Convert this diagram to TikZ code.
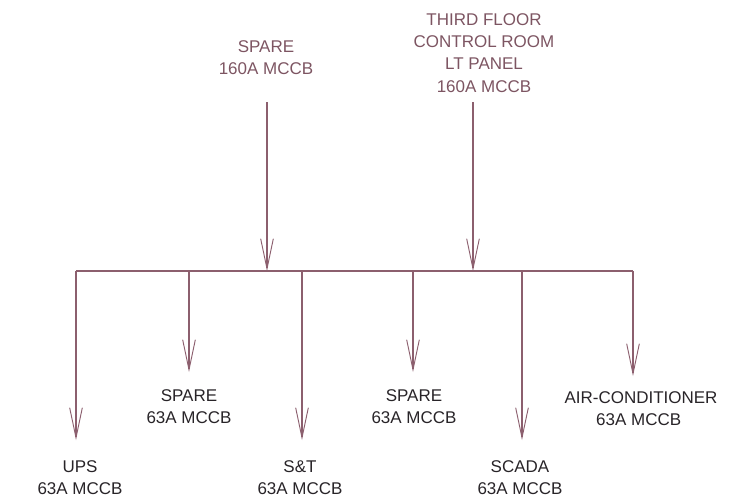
\documentclass[tikz,border=0pt]{standalone}
\usepackage{fontspec}
\setmainfont{Liberation Sans}
\usetikzlibrary{arrows.meta}
\definecolor{wire}{RGB}{140,95,110}
\definecolor{txt}{RGB}{40,36,40}
\definecolor{toptxt}{RGB}{125,85,98}
\begin{document}
\begin{tikzpicture}[x=0.03cm,y=-0.03cm,
  wirestyle/.style={draw=wire,line width=0.9pt},
  feed/.style={wirestyle,-{Straight Barb[length=0.9cm,width=0.38cm,line width=0.8pt]}},
  lbl/.style={text=txt,font=\fontsize{14.5}{19}\selectfont,align=center,inner sep=0pt},
  toplbl/.style={lbl,text=toptxt}]
\useasboundingbox (0,0) rectangle (731,500);
% top labels
\node[toplbl] (spareT) at (266,58) {SPARE\\160A MCCB};
\node[toplbl] (ltp) at (484,53) {THIRD FLOOR\\CONTROL ROOM\\LT PANEL\\160A MCCB};
% bus
\coordinate (bL) at (76,271);
\coordinate (bR) at (633,271);
\coordinate (j1) at (267,271);
\coordinate (j2) at (473,271);
\coordinate (s1) at (267,102);
\coordinate (s2) at (473,102);
\draw[wirestyle] (bL) -- (bR);
\draw[feed] (s1) -- (j1);
\draw[feed] (s2) -- (j2);
% drops
\coordinate (d1) at (76,271);
\coordinate (d2) at (189,271);
\coordinate (d3) at (302,271);
\coordinate (d4) at (413,271);
\coordinate (d5) at (522,271);
\coordinate (d6) at (633,271);
\coordinate (e1) at (76,440);
\coordinate (e2) at (189,372);
\coordinate (e3) at (302,440);
\coordinate (e4) at (413,372);
\coordinate (e5) at (522,440);
\coordinate (e6) at (633,376);
\foreach \i in {1,...,6} \draw[feed] (d\i) -- (e\i);
% bottom labels
\node[lbl] (ups) at (80,478) {UPS\\63A MCCB};
\node[lbl] (sp1) at (189,407) {SPARE\\63A MCCB};
\node[lbl] (st) at (300,478) {S\&T\\63A MCCB};
\node[lbl] (sp2) at (414,407) {SPARE\\63A MCCB};
\node[lbl] (scada) at (520,478) {SCADA\\63A MCCB};
\node[lbl,align=left] (ac) at (641,409) {AIR-CONDITIONER\\\hspace*{0.95cm}63A MCCB};
\end{tikzpicture}
\end{document}
